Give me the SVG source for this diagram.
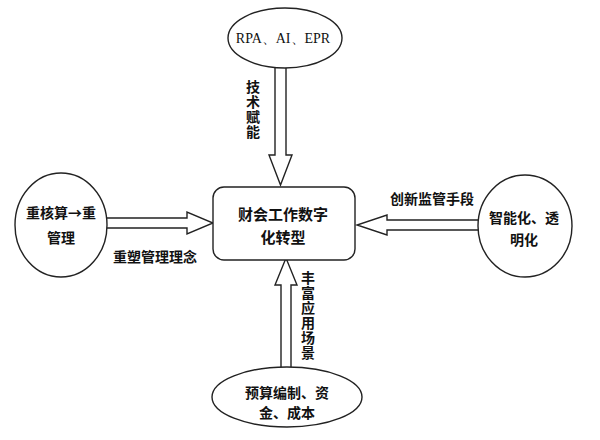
<svg xmlns="http://www.w3.org/2000/svg" width="600" height="440" viewBox="0 0 600 440">
<style>
.ar{fill:#fff;stroke:#222;stroke-width:1.4;stroke-linejoin:miter}
.nd{fill:#fff;stroke:#222;stroke-width:1.4}
.t{font-family:"Noto Sans CJK SC","Noto Sans",sans-serif;font-weight:bold;font-size:14px;fill:#111;text-anchor:middle}
.v{font-family:"Noto Sans CJK SC","Noto Sans",sans-serif;font-weight:bold;font-size:14px;fill:#111;writing-mode:vertical-rl;text-anchor:start;letter-spacing:1px}
.s{font-family:"Liberation Serif",serif;font-size:14px;fill:#111;text-anchor:middle}
</style>
<rect width="600" height="440" fill="#fff"/>
<g id="connectors">
<polygon class="ar" points="275,60 286,60 286,155 292,155 280.5,185 269,155 275,155"/>
<polygon class="ar" points="100,218 187,218 187,212 213,223 187,234 187,228 100,228"/>
<polygon class="ar" points="485,220 387,220 387,215 357,225 387,235 387,230 485,230"/>
<polygon class="ar" points="281,375 281,285 275,285 286,258 297,285 291,285 291,375"/>
<text class="v" x="253" y="80">技术赋能</text>
<text class="t" x="155" y="262">重塑管理理念</text>
<text class="t" x="432" y="204">创新监管手段</text>
<text class="v" x="308" y="271">丰富应用场景</text>
</g>
<g id="top">
<ellipse class="nd" cx="285" cy="38" rx="57" ry="30"/>
<text class="s" x="283" y="43">RPA、AI、EPR</text>
</g>
<g id="center">
<rect class="nd" x="213" y="187" width="142" height="73" rx="11"/>
<text class="t" style="font-size:15px" x="283" y="220">财会工作数字</text>
<text class="t" style="font-size:15px" x="283" y="243">化转型</text>
</g>
<g id="left">
<ellipse class="nd" cx="61" cy="225" rx="46" ry="52"/>
<text class="t" x="61" y="218">重核算→重</text>
<text class="t" x="61" y="243">管理</text>
</g>
<g id="right">
<ellipse class="nd" cx="525" cy="226" rx="47" ry="51"/>
<text class="t" x="524" y="223">智能化、透</text>
<text class="t" x="524" y="245">明化</text>
</g>
<g id="bottom">
<ellipse class="nd" cx="287" cy="397" rx="75" ry="30"/>
<text class="t" x="287" y="398">预算编制、资</text>
<text class="t" x="287" y="418">金、成本</text>
</g>
</svg>
